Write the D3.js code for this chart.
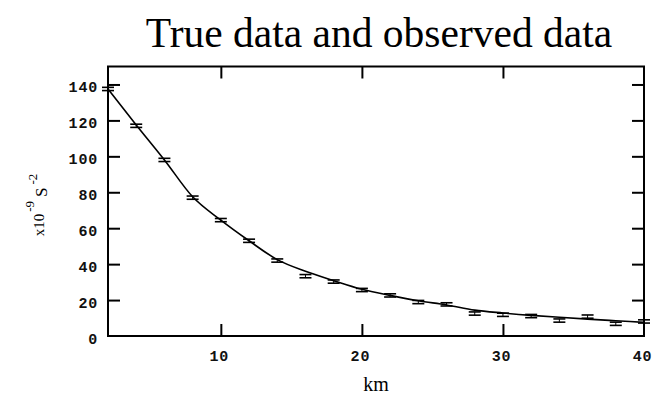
<!DOCTYPE html>
<html>
<head>
<meta charset="utf-8">
<script src="https://cdn.jsdelivr.net/npm/d3@7"></script>
<style>
  html, body { margin: 0; padding: 0; background: #fff; }
  svg { display: block; }
</style>
</head>
<body>
<svg id="chart" width="652" height="400"></svg>
<script>
const distances = [2, 4, 6, 8, 10, 12, 14, 16, 18, 20, 22, 24, 26, 28, 30, 32, 34, 36, 38, 40];
const trueValues = [137.5, 117.5, 98, 77.5, 64.5, 53, 42.5, 36, 30.8, 26, 22.6, 19.6, 17.3, 14.4, 12.8, 11.5, 10.4, 9.4, 8.5, 7.6];
const observedValues = [137.5, 117, 98, 77, 64.5, 53, 42, 33.3, 30.3, 25.6, 22.6, 18.9, 17.6, 12.5, 11.8, 11.1, 8.6, 10.8, 6.8, 8.1];
const observedErrors = [0.9, 0.9, 0.9, 0.9, 0.9, 0.9, 0.9, 0.9, 0.9, 0.9, 0.9, 0.9, 0.9, 0.9, 0.9, 0.9, 0.9, 0.9, 0.9, 0.9];
const xTicks = [10, 20, 30, 40];
const yTicks = [0, 20, 40, 60, 80, 100, 120, 140];
const xDomain = [2, 40];
const yDomain = [0, 150];

const svg = d3.select("#chart");
const m = { left: 108, right: 644, top: 66.5, bottom: 336 };

const x = d3.scaleLinear().domain(xDomain).range([m.left, m.right]);
const y = d3.scaleLinear().domain(yDomain).range([m.bottom, m.top]);

// title
svg.append("text")
  .attr("x", 379).attr("y", 47)
  .attr("text-anchor", "middle")
  .style("font-family", "'Liberation Serif', 'Times New Roman', serif")
  .style("font-size", "41.5px")
  .text("True data and observed data");

// frame
svg.append("rect")
  .attr("x", m.left).attr("y", m.top)
  .attr("width", m.right - m.left).attr("height", m.bottom - m.top)
  .attr("fill", "none").attr("stroke", "#000").attr("stroke-width", 2);

const tickLen = 12;
const labelFont = "'Liberation Mono', 'Courier New', monospace";

// bottom axis
const bottomAxis = d3.axisBottom(x).tickValues(xTicks).tickSize(-tickLen).tickPadding(14).tickFormat(d3.format("d"));
const gB = svg.append("g").attr("transform", `translate(0,${m.bottom})`).call(bottomAxis);
// top axis (inner ticks, no labels)
const topAxis = d3.axisTop(x).tickValues(xTicks.filter(v => v < xDomain[1])).tickSize(-tickLen).tickFormat("");
const gT = svg.append("g").attr("transform", `translate(0,${m.top})`).call(topAxis);
// left axis
const leftAxis = d3.axisLeft(y).tickValues(yTicks).tickSize(-tickLen).tickPadding(10).tickFormat(d3.format("d"));
const gL = svg.append("g").attr("transform", `translate(${m.left},0)`).call(leftAxis);
// right axis (inner ticks, no labels)
const rightAxis = d3.axisRight(y).tickValues(yTicks.filter(v => v > 0)).tickSize(-tickLen).tickFormat("");
const gR = svg.append("g").attr("transform", `translate(${m.right},0)`).call(rightAxis);

[gB, gT, gL, gR].forEach(g => {
  g.select(".domain").remove();
  g.selectAll(".tick line").attr("stroke", "#000").attr("stroke-width", 2);
  g.selectAll(".tick text")
    .attr("fill", "#111")
    .style("font-family", labelFont)
    .style("font-weight", "bold")
    .style("font-size", "15px")
    .style("letter-spacing", "0.8px");
});
gL.selectAll(".tick text").attr("dy", "0.5em");
gB.selectAll(".tick text").attr("dx", "-2");
gL.selectAll(".tick").filter(d => d === 0).select("line").remove();
gB.selectAll(".tick").filter(d => d === xDomain[1]).select("line").remove();

// true curve
const line = d3.line().x((d, i) => x(distances[i])).y(d => y(d)).curve(d3.curveMonotoneX);
svg.append("path")
  .datum(trueValues)
  .attr("d", line)
  .attr("fill", "none")
  .attr("stroke", "#000")
  .attr("stroke-width", 1.6);

// observed error bars
const capW = 6;
const eb = svg.append("g").attr("stroke", "#000").attr("stroke-width", 1.6);
observedValues.forEach((v, i) => {
  const cx = x(distances[i]);
  const e = observedErrors[i];
  eb.append("line").attr("x1", cx - capW).attr("x2", cx + capW).attr("y1", y(v + e)).attr("y2", y(v + e));
  eb.append("line").attr("x1", cx - capW).attr("x2", cx + capW).attr("y1", y(v - e)).attr("y2", y(v - e));
  eb.append("line").attr("x1", cx).attr("x2", cx).attr("y1", y(v + e)).attr("y2", y(v - e)).attr("stroke-width", 1);
});

// x axis label
svg.append("text")
  .attr("x", 376).attr("y", 391)
  .attr("text-anchor", "middle")
  .style("font-family", "'Liberation Serif', 'Times New Roman', serif")
  .style("font-size", "20px")
  .text("km");

// y axis label: x10^-9 S^-2
const yl = svg.append("text")
  .attr("transform", "translate(44,205) rotate(-90)")
  .attr("text-anchor", "middle")
  .style("font-family", "'Liberation Serif', 'Times New Roman', serif")
  .style("font-size", "15px");
yl.append("tspan").text("x10");
yl.append("tspan").attr("dy", "-0.75em").attr("dx", "2").style("font-size", "13px").text("-9");
yl.append("tspan").attr("dy", "0.75em").attr("dx", "4").style("font-size", "17px").text("S");
yl.append("tspan").attr("dy", "-0.75em").attr("dx", "3").style("font-size", "13px").text("-2");
</script>
</body>
</html>
